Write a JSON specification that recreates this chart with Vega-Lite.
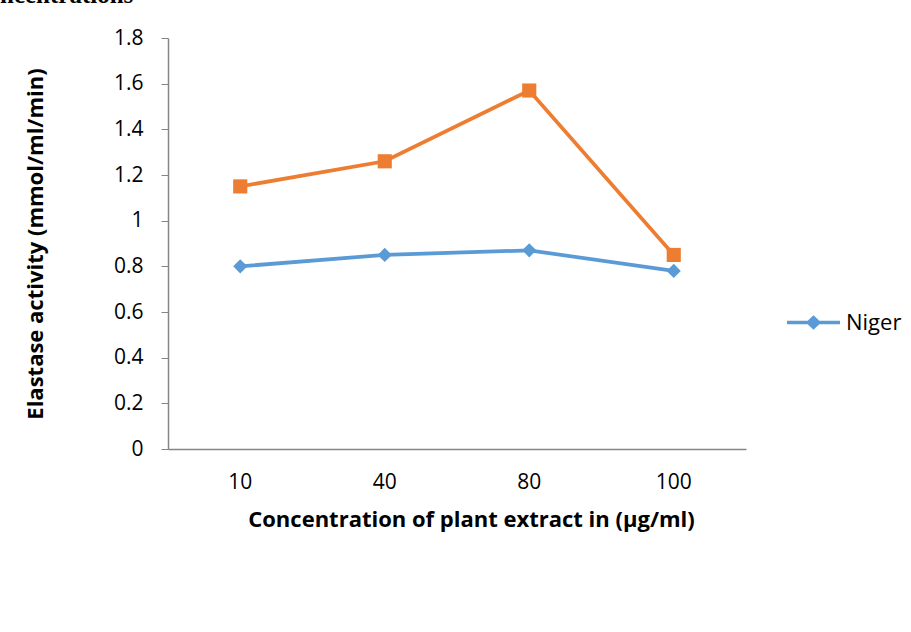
{
  "$schema": "https://vega.github.io/schema/vega-lite/v6.json",
  "width": 578,
  "height": 411,
  "autosize": {"type": "none"},
  "padding": {"left": 168, "top": 38, "right": 165, "bottom": 183},
  "background": "white",
  "title": {
    "text": "ncentrations",
    "anchor": "start",
    "frame": "group",
    "font": "Liberation Serif",
    "fontSize": 25,
    "fontWeight": "bold",
    "color": "black",
    "dx": -168,
    "dy": 1,
    "baseline": "alphabetic",
    "offset": 0
  },
  "config": {
    "view": {"stroke": null},
    "axis": {
      "labelFont": "Open Sans",
      "titleFont": "Open Sans",
      "labelColor": "black",
      "titleColor": "black",
      "domainColor": "#868686",
      "tickColor": "#868686",
      "domainWidth": 1.5,
      "grid": false
    }
  },
  "data": {
    "values": [
      {"conc": "10", "series": "Niger", "activity": 0.80},
      {"conc": "40", "series": "Niger", "activity": 0.85},
      {"conc": "80", "series": "Niger", "activity": 0.87},
      {"conc": "100", "series": "Niger", "activity": 0.78},
      {"conc": "10", "series": "Series 2", "activity": 1.15},
      {"conc": "40", "series": "Series 2", "activity": 1.26},
      {"conc": "80", "series": "Series 2", "activity": 1.57},
      {"conc": "100", "series": "Series 2", "activity": 0.85}
    ]
  },
  "encoding": {
    "x": {
      "field": "conc",
      "type": "ordinal",
      "sort": ["10", "40", "80", "100"],
      "scale": {"type": "band", "paddingInner": 0, "paddingOuter": 0},
      "axis": {
        "title": "Concentration of plant extract in (µg/ml)",
        "labelAngle": 0,
        "labelFontSize": 21,
        "titleFontSize": 22,
        "titleFontWeight": "bold",
        "ticks": false,
        "labelPadding": 22,
        "titlePadding": 17,
        "titleX": 303
      }
    },
    "y": {
      "field": "activity",
      "type": "quantitative",
      "scale": {"domain": [0, 1.8], "nice": false},
      "axis": {
        "title": "Elastase activity (mmol/ml/min)",
        "values": [0, 0.2, 0.4, 0.6, 0.8, 1, 1.2, 1.4, 1.6, 1.8],
        "format": "~g",
        "labelFontSize": 21,
        "titleFontSize": 22,
        "titleFontWeight": "bold",
        "tickSize": 7,
        "labelPadding": 18,
        "titlePadding": 66
      }
    },
    "color": {
      "field": "series",
      "type": "nominal",
      "scale": {"domain": ["Niger", "Series 2"], "range": ["#5B9BD5", "#ED7D31"]},
      "legend": {
        "values": ["Niger"],
        "title": null,
        "orient": "none",
        "legendX": 619,
        "legendY": 258,
        "symbolType": "M-1,-0.07L-0.22,-0.07L0,-0.27L0.22,-0.07L1,-0.07L1,0.07L0.22,0.07L0,0.27L-0.22,0.07L-1,0.07Z",
        "symbolSize": 2809,
        "symbolFillColor": "#5B9BD5",
        "symbolStrokeWidth": 0,
        "symbolOpacity": 1,
        "labelFont": "Open Sans",
        "labelFontSize": 22,
        "labelColor": "black",
        "labelOffset": 6
      }
    }
  },
  "layer": [
    {"mark": {"type": "line", "strokeWidth": 3.75}},
    {
      "transform": [{"filter": "datum.series === 'Niger'"}],
      "mark": {"type": "point", "filled": true, "opacity": 1, "shape": "diamond", "size": 200}
    },
    {
      "transform": [{"filter": "datum.series === 'Series 2'"}],
      "mark": {"type": "point", "filled": true, "opacity": 1, "shape": "square", "size": 200}
    }
  ]
}
